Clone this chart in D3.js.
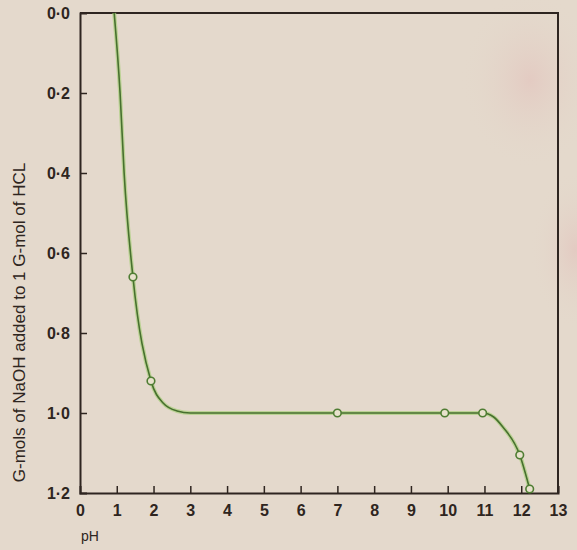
<!DOCTYPE html>
<html>
<head>
<meta charset="utf-8">
<script src="https://cdn.jsdelivr.net/npm/d3@7"></script>
<style>
  html, body { margin: 0; padding: 0; background: #e4d9cc; }
  svg { display: block; }
</style>
</head>
<body>
<div id="chart"></div>
<script>
// pH ticks and mol ticks
var xTicks = [0, 1, 2, 3, 4, 5, 6, 7, 8, 9, 10, 11, 12, 13]
var yTicks = [0, 0.2, 0.4, 0.6, 0.8, 1.0, 1.2]

// measured points (circles)
var pointPH = [1.44, 1.93, 7.0, 9.92, 10.95, 11.96, 12.23]
var pointMol = [0.66, 0.92, 1.0, 1.0, 1.0, 1.105, 1.19]

// drawn curve
var curvePH = [0.93, 1.09, 1.2, 1.44, 1.93, 2.26, 2.64, 3.0, 7.0, 9.92, 10.95, 11.25, 11.5, 11.96, 12.23]
var curveMol = [0.0, 0.2, 0.4, 0.66, 0.92, 0.975, 0.995, 1.0, 1.0, 1.0, 1.0, 1.01, 1.035, 1.105, 1.19]

const width = 577
const height = 550
const margin = { top: 13, right: 19, bottom: 57, left: 80 }

var svg = d3.select('#chart')
  .append('svg')
  .attr('width', width)
  .attr('height', height)

// paper background with a couple of faint pink blotches
var defs = svg.append('defs')
var g1 = defs.append('radialGradient').attr('id', 'blotch1')
g1.append('stop').attr('offset', '0%').attr('stop-color', '#e2b9b6').attr('stop-opacity', 0.45)
g1.append('stop').attr('offset', '100%').attr('stop-color', '#e4d9cc').attr('stop-opacity', 0)
svg.append('rect').attr('width', width).attr('height', height).attr('fill', '#e4d9cc')
svg.append('ellipse').attr('cx', 530).attr('cy', 80).attr('rx', 70).attr('ry', 90).attr('fill', 'url(#blotch1)')
svg.append('ellipse').attr('cx', 575).attr('cy', 250).attr('rx', 45).attr('ry', 80).attr('fill', 'url(#blotch1)')

var x = d3.scaleLinear().domain([0, 13]).range([margin.left, width - margin.right])
var y = d3.scaleLinear().domain([0, 1.2]).range([margin.top, height - margin.bottom])

var ink = '#2e2520'
var fmt = d => d3.format('.1f')(d).replace('.', '·')

// frame top + right
svg.append('path')
  .attr('d', 'M' + x(0) + ',' + y(0) + 'H' + x(13) + 'V' + y(1.2))
  .attr('fill', 'none').attr('stroke', ink).attr('stroke-width', 2)

var xAxis = svg.append('g')
  .attr('transform', 'translate(0,' + y(1.2) + ')')
  .call(d3.axisBottom(x).tickValues(xTicks).tickSize(-7).tickPadding(12).tickFormat(d3.format('d')))
var yAxis = svg.append('g')
  .attr('transform', 'translate(' + x(0) + ',0)')
  .call(d3.axisLeft(y).tickValues(yTicks).tickSize(-7).tickPadding(10).tickFormat(fmt))

;[xAxis, yAxis].forEach(function (a) {
  a.select('.domain').attr('stroke', ink).attr('stroke-width', 2)
  a.selectAll('.tick line').attr('stroke', ink).attr('stroke-width', 1.5)
  a.selectAll('.tick text').attr('fill', ink)
    .style('font-family', 'Liberation Sans, Arial, sans-serif')
    .style('font-size', '16px').style('font-weight', 'bold')
})
xAxis.selectAll('.tick').filter(d => d === 0).select('line').remove()
yAxis.selectAll('.tick').filter(d => d === 0 || d === 1.2).select('line').remove()

// curve
var curveData = curvePH.map((p, i) => [p, curveMol[i]])
var line = d3.line().x(d => x(d[0])).y(d => y(d[1])).curve(d3.curveMonotoneX)
svg.append('path').datum(curveData).attr('d', line)
  .attr('fill', 'none').attr('stroke', '#a9cf7c').attr('stroke-width', 4).attr('opacity', 0.7)
svg.append('path').datum(curveData).attr('d', line)
  .attr('fill', 'none').attr('stroke', '#47702e').attr('stroke-width', 1.6)

// points
svg.append('g').selectAll('circle')
  .data(pointPH.map((p, i) => [p, pointMol[i]]))
  .join('circle')
  .attr('cx', d => x(d[0])).attr('cy', d => y(d[1])).attr('r', 3.8)
  .attr('fill', '#e8e2cc').attr('stroke', '#4f7d33').attr('stroke-width', 1.6)

// labels
svg.append('text')
  .attr('x', 81).attr('y', 541)
  .attr('fill', ink)
  .style('font-family', 'Liberation Sans, Arial, sans-serif')
  .style('font-size', '14px')
  .text('pH')

svg.append('text')
  .attr('transform', 'translate(25,' + ((150 + 495) / 2) + ') rotate(-90)')
  .attr('text-anchor', 'middle')
  .attr('fill', ink)
  .style('font-family', 'Liberation Sans, Arial, sans-serif')
  .style('font-size', '17px')
  .text('G-mols of NaOH added to 1 G-mol of HCL')
</script>
</body>
</html>
